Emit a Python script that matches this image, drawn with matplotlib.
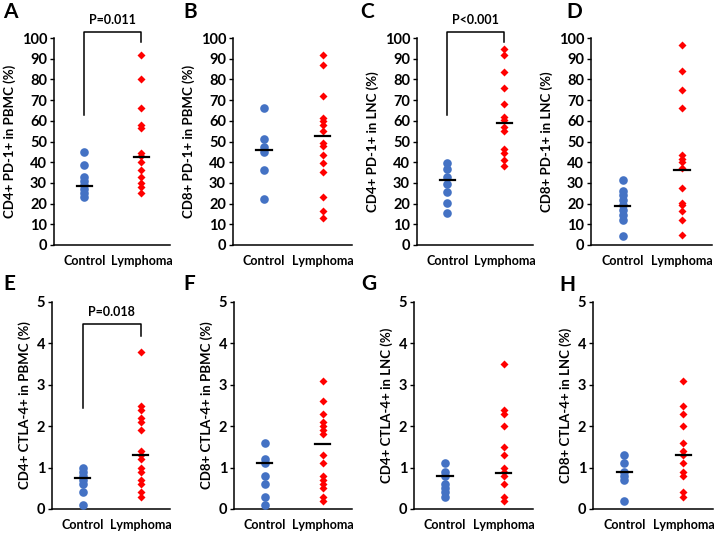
import numpy as np
import matplotlib.pyplot as plt

plt.rcParams['font.family'] = ['Lato', 'DejaVu Sans']
plt.rcParams['font.weight'] = 'bold'
plt.rcParams['axes.labelweight'] = 'bold'

groups = ['Control', 'Lymphoma']

# PD-1 panels (%)
a_ctrl = [45, 38.5, 33, 31, 29, 27, 25, 23]
a_lym = [92, 80, 66, 58, 56.5, 44.5, 43, 40, 36, 33, 30, 28, 25]
a_med = [28.5, 42.5]

b_ctrl = [66, 51, 47.5, 45, 36, 22]
b_lym = [92, 87, 72, 61.5, 60, 58, 55, 49.5, 48, 43.5, 39.5, 35.5, 23, 16.5, 13]
b_med = [46, 52.5]

c_ctrl = [39.5, 36.5, 33, 29.5, 25.5, 20.5, 15.5]
c_lym = [94.5, 92, 83.5, 76, 68, 62, 60.5, 57, 55, 46.5, 44.5, 41, 38]
c_med = [31.5, 59]

d_ctrl = [31.5, 26, 24, 21.5, 19.5, 17, 14.5, 12, 4.5]
d_lym = [96.5, 84, 75, 66, 43.5, 41.5, 40, 37, 27.5, 20.5, 19.5, 16.5, 12, 5]
d_med = [19, 36]

# CTLA-4 panels (%)
e_ctrl = [1.0, 0.9, 0.8, 0.7, 0.6, 0.4, 0.1]
e_lym = [3.8, 2.5, 2.4, 2.2, 2.1, 1.9, 1.4, 1.3, 1.2, 1.0, 0.9, 0.7, 0.6, 0.4, 0.3]
e_med = [0.75, 1.3]

f_ctrl = [1.6, 1.2, 1.1, 0.8, 0.6, 0.3, 0.1]
f_lym = [3.1, 2.6, 2.3, 2.1, 2.0, 1.9, 1.8, 1.3, 1.1, 0.8, 0.7, 0.6, 0.5, 0.3, 0.2]
f_med = [1.12, 1.57]

g_ctrl = [1.1, 0.9, 0.8, 0.6, 0.5, 0.4, 0.3]
g_lym = [3.5, 2.4, 2.3, 2.0, 1.5, 1.3, 1.0, 0.9, 0.8, 0.6, 0.3, 0.2]
g_med = [0.8, 0.88]

h_ctrl = [1.3, 1.1, 0.9, 0.8, 0.7, 0.2]
h_lym = [3.1, 2.5, 2.3, 2.0, 1.6, 1.4, 1.3, 1.1, 0.9, 0.8, 0.4, 0.3]
h_med = [0.9, 1.3]

panels = [
    ('A', 'CD4+ PD-1+ in PBMC (%)', a_ctrl, a_lym, a_med, 100, 10, 'P=0.011'),
    ('B', 'CD8+ PD-1+ in PBMC (%)', b_ctrl, b_lym, b_med, 100, 10, None),
    ('C', 'CD4+ PD-1+ in LNC (%)', c_ctrl, c_lym, c_med, 100, 10, 'P<0.001'),
    ('D', 'CD8+ PD-1+ in LNC (%)', d_ctrl, d_lym, d_med, 100, 10, None),
    ('E', 'CD4+ CTLA-4+ in PBMC (%)', e_ctrl, e_lym, e_med, 5, 1, 'P=0.018'),
    ('F', 'CD8+ CTLA-4+ in PBMC (%)', f_ctrl, f_lym, f_med, 5, 1, None),
    ('G', 'CD4+ CTLA-4+ in LNC (%)', g_ctrl, g_lym, g_med, 5, 1, None),
    ('H', 'CD8+ CTLA-4+ in LNC (%)', h_ctrl, h_lym, h_med, 5, 1, None),
]

W, H = 716, 533
fig = plt.figure(figsize=(W / 100, H / 100), dpi=100)

# axes boxes in pixels: left, right, top, bottom
boxes = [(54, 170, 38, 245), (233, 352, 38, 245), (417, 533, 38, 245), (591, 712, 38, 245),
         (52, 170, 302, 509), (234, 352, 302, 509), (414, 533, 302, 509), (593, 713, 302, 509)]
letter_pos = [(10, 12), (190, 12), (367, 12), (574, 12),
              (9, 284), (189, 284), (369, 284), (567, 285)]
# bracket: left leg bottom, right leg bottom, top, text (fraction of ymax)
brackets = {'A': (0.63, 0.98, 1.03, 1.085),
            'C': (0.63, 0.98, 1.03, 1.085),
            'E': (0.49, 0.838, 0.894, 0.954)}

for i, (letter, ylab, ctrl, lym, med, ymax, step, ptxt) in enumerate(panels):
    l, r, t, b = boxes[i]
    ax = fig.add_axes([l / W, 1 - b / H, (r - l) / W, (b - t) / H])
    ax.plot(np.zeros(len(ctrl)), ctrl, 'o', color='#4472C4', ms=6.2, mec='none', zorder=3)
    ax.plot(np.ones(len(lym)), lym, 'D', color='#FF0000', ms=4.3, mec='none', zorder=3)
    for x, m in zip([0, 1], med):
        ax.plot([x - 0.13, x + 0.13], [m, m], color='black', lw=1.6, zorder=4)
    ax.set_xlim(-0.53, 1.5)
    ax.set_ylim(0, ymax)
    ax.set_yticks(np.arange(0, ymax + step / 2, step))
    ax.set_xticks([0, 1], groups)
    ax.tick_params(axis='x', length=0, pad=7, labelsize=9)
    ax.tick_params(axis='y', length=3, width=1, pad=2, labelsize=10.5)
    for s in ['top', 'right']:
        ax.spines[s].set_visible(False)
    for s in ['left', 'bottom']:
        ax.spines[s].set_linewidth(1.1)
    ax.set_ylabel(ylab, fontsize=9.5, labelpad=4)
    if ptxt:
        lb, rb, top, tx = brackets[letter]
        ax.plot([0, 0, 1, 1], [lb * ymax, top * ymax, top * ymax, rb * ymax],
                color='black', lw=1.1, clip_on=False)
        ax.text(0.5, tx * ymax, ptxt, ha='center', va='center', fontsize=9)
    lx, ly = letter_pos[i]
    fig.text(lx / W, 1 - ly / H, letter, ha='center', va='center',
             fontsize=15, fontweight='bold')

fig.savefig('out.png', dpi=100)
